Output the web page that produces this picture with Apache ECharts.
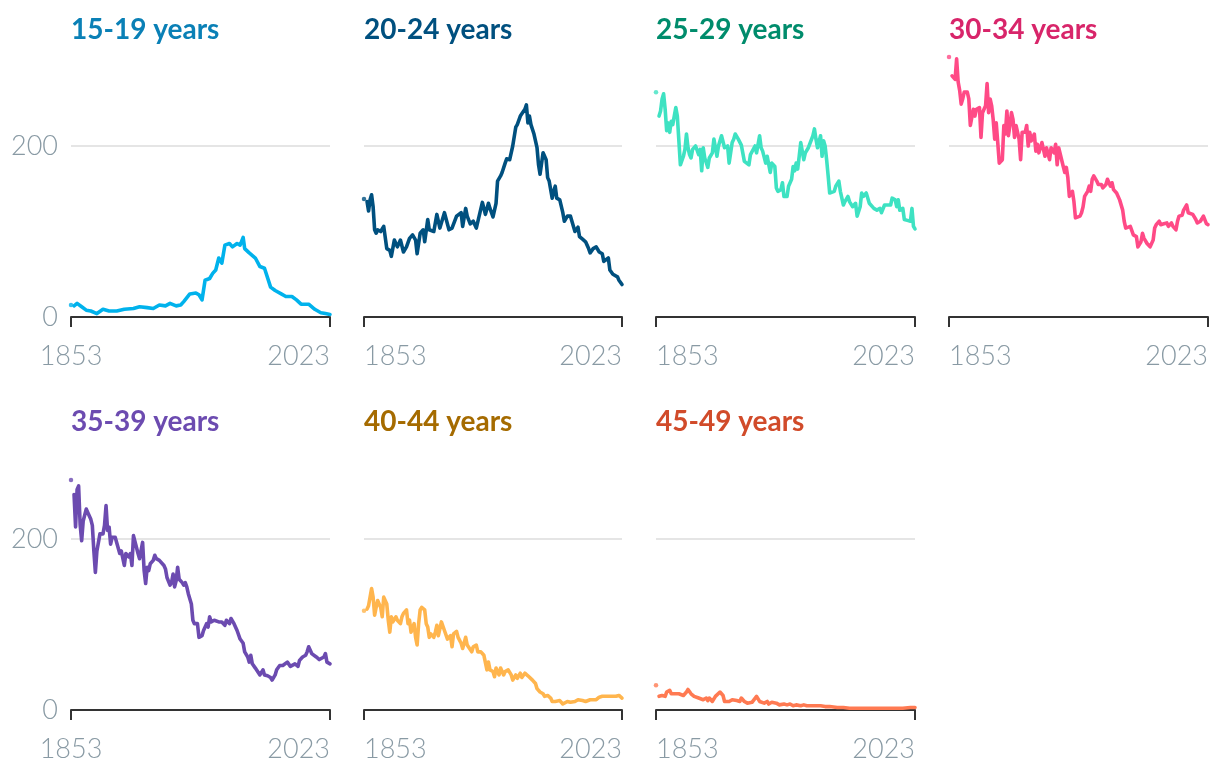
<!DOCTYPE html>
<html>
<head>
<meta charset="utf-8">
<script src="https://cdn.jsdelivr.net/npm/echarts@6/dist/echarts.min.js"></script>
<style>
html,body{margin:0;padding:0;background:#fff;}
#chart{width:1220px;height:776px;}
</style>
</head>
<body>
<div id="chart"></div>
<script>
// ---- Data (births per 1000 women, by age group of mother) ----
const ageGroups = ['15-19 years','20-24 years','25-29 years','30-34 years','35-39 years','40-44 years','45-49 years'];
const xTickYears = [1853, 2023];
const yTicks = [0, 200];

const age1519 = [[1853,14],[1855,13],[1857,16],[1860,12],[1863,8],[1866,7],[1870,4],[1874,9],[1878,7],[1883,7],[1888,9],[1894,10],[1898,12],[1903,11],[1907,10],[1911,14],[1915,13],[1918,16],[1922,13],[1925,14],[1927,18],[1931,27],[1935,28],[1937,26],[1939,20],[1941,43],[1944,45],[1946,51],[1948,55],[1950,69],[1952,63],[1954,84],[1957,86],[1959,82],[1962,86],[1964,84],[1966,93],[1967,80],[1970,75],[1974,69],[1977,59],[1980,57],[1984,35],[1987,31],[1991,27],[1994,24],[1998,24],[2001,20],[2004,15],[2009,15],[2013,9],[2017,5],[2020,4],[2023,3]];

const age2024 = [[1853,138],[1855,135],[1856,124],[1857,137],[1858,143],[1859,129],[1860,102],[1861,98],[1862,102],[1864,100],[1866,106],[1867,104],[1868,80],[1870,78],[1871,71],[1873,90],[1875,82],[1877,90],[1878,88],[1879,76],[1881,82],[1883,92],[1885,96],[1887,90],[1888,74],[1890,98],[1892,102],[1893,88],[1895,114],[1896,102],[1899,100],[1901,120],[1903,104],[1906,122],[1909,102],[1911,104],[1912,106],[1914,118],[1917,122],[1918,106],[1920,127],[1921,118],[1923,109],[1925,112],[1927,104],[1928,104],[1931,134],[1932,133],[1933,120],[1935,133],[1936,127],[1938,117],[1940,133],[1941,159],[1943,165],[1944,169],[1946,180],[1947,185],[1949,184],[1951,200],[1953,222],[1954,225],[1956,235],[1957,237],[1959,243],[1960,248],[1961,227],[1962,235],[1963,225],[1965,214],[1967,198],[1968,178],[1969,167],[1971,192],[1972,194],[1973,184],[1974,163],[1975,159],[1977,139],[1978,147],[1979,153],[1980,139],[1982,137],[1984,122],[1985,112],[1987,118],[1989,118],[1990,112],[1992,100],[1994,105],[1995,94],[1997,91],[1999,88],[2001,80],[2002,75],[2004,80],[2006,82],[2008,76],[2010,74],[2011,65],[2012,67],[2014,69],[2015,55],[2017,50],[2018,49],[2020,47],[2021,43],[2023,38]];

const age2529 = [[1853,263],[1855,235],[1856,241],[1857,255],[1858,261],[1859,243],[1860,218],[1861,227],[1862,216],[1863,229],[1864,225],[1865,235],[1866,245],[1867,235],[1869,178],[1870,178],[1871,188],[1872,196],[1873,214],[1874,198],[1875,190],[1876,186],[1877,196],[1879,200],[1881,190],[1882,196],[1883,171],[1884,198],[1885,186],[1887,175],[1888,186],[1890,192],[1891,208],[1893,188],[1894,200],[1896,212],[1897,214],[1898,198],[1900,200],[1901,180],[1903,204],[1904,208],[1905,214],[1907,208],[1909,201],[1910,200],[1911,182],[1912,180],[1914,178],[1915,190],[1916,188],[1918,200],[1919,192],[1921,212],[1922,198],[1923,194],[1925,180],[1926,188],[1928,169],[1929,180],[1931,176],[1932,151],[1933,147],[1935,149],[1936,157],[1937,141],[1939,141],[1940,153],[1942,161],[1943,176],[1944,171],[1945,180],[1946,173],[1947,188],[1948,204],[1949,194],[1950,184],[1951,192],[1953,198],[1954,200],[1956,212],[1957,220],[1958,208],[1959,198],[1961,212],[1962,188],[1963,206],[1964,200],[1965,184],[1966,165],[1967,145],[1968,143],[1970,147],[1971,153],[1973,159],[1974,147],[1976,131],[1977,135],[1979,141],[1980,135],[1982,129],[1984,133],[1985,118],[1987,129],[1988,145],[1989,141],[1991,145],[1993,133],[1994,133],[1996,127],[1998,125],[2000,127],[2001,122],[2003,131],[2004,133],[2007,131],[2008,139],[2010,137],[2011,129],[2012,137],[2013,125],[2015,127],[2016,114],[2018,113],[2020,112],[2021,127],[2022,106],[2023,103]];

const age3034 = [[1853,304],[1855,282],[1856,280],[1857,278],[1858,302],[1859,275],[1860,265],[1861,249],[1862,255],[1863,263],[1865,263],[1866,255],[1867,224],[1869,243],[1870,235],[1871,243],[1873,245],[1874,210],[1875,239],[1876,237],[1877,247],[1878,273],[1879,239],[1880,255],[1881,247],[1882,231],[1883,208],[1884,227],[1885,204],[1886,180],[1888,184],[1889,224],[1890,214],[1891,241],[1892,212],[1893,224],[1894,239],[1895,231],[1896,210],[1897,224],[1899,208],[1900,184],[1901,216],[1903,216],[1904,224],[1905,200],[1906,216],[1907,206],[1909,214],[1910,194],[1911,202],[1912,192],[1914,204],[1915,204],[1916,188],[1917,198],[1919,184],[1920,198],[1922,192],[1923,202],[1924,178],[1925,198],[1926,200],[1928,176],[1929,169],[1930,175],[1931,163],[1932,141],[1934,147],[1935,135],[1936,116],[1937,116],[1939,118],[1940,122],[1941,129],[1942,141],[1944,147],[1945,153],[1946,147],[1947,161],[1948,165],[1950,159],[1951,155],[1953,155],[1954,151],[1956,155],[1957,161],[1959,153],[1960,157],[1961,149],[1963,145],[1965,137],[1967,125],[1968,112],[1969,104],[1970,102],[1972,106],[1973,104],[1974,96],[1976,94],[1977,82],[1979,88],[1980,98],[1981,92],[1982,90],[1983,86],[1985,82],[1986,81],[1987,90],[1988,104],[1989,108],[1991,112],[1992,108],[1994,109],[1996,110],[1997,106],[1999,110],[2000,106],[2002,102],[2003,112],[2004,118],[2006,119],[2007,125],[2009,131],[2010,122],[2011,124],[2013,120],[2015,114],[2016,110],[2018,112],[2020,118],[2021,120],[2022,109],[2023,108]];

const age3539 = [[1853,269],[1855,252],[1856,214],[1857,258],[1858,262],[1859,217],[1860,198],[1861,221],[1862,223],[1863,235],[1864,231],[1866,223],[1867,216],[1868,186],[1869,161],[1870,186],[1871,188],[1872,206],[1874,206],[1875,216],[1876,239],[1877,210],[1878,214],[1879,194],[1880,202],[1882,202],[1883,204],[1885,183],[1886,186],[1888,169],[1889,183],[1891,179],[1892,183],[1893,169],[1894,204],[1895,202],[1897,183],[1898,177],[1900,196],[1901,163],[1902,148],[1903,167],[1904,163],[1905,171],[1907,175],[1908,181],[1909,177],[1911,175],[1912,175],[1914,169],[1915,165],[1916,155],[1918,146],[1919,149],[1920,159],[1921,144],[1922,151],[1923,167],[1924,153],[1926,149],[1927,146],[1928,149],[1929,144],[1930,136],[1932,124],[1933,105],[1934,101],[1936,101],[1937,85],[1939,87],[1940,93],[1942,101],[1943,97],[1944,109],[1945,103],[1947,105],[1948,103],[1950,103],[1951,101],[1952,103],[1954,99],[1955,105],[1957,101],[1958,107],[1960,101],[1962,93],[1963,91],[1964,83],[1966,78],[1967,68],[1969,62],[1970,56],[1971,64],[1972,54],[1974,49],[1975,47],[1977,41],[1979,47],[1980,41],[1982,40],[1984,38],[1985,35],[1987,41],[1988,47],[1990,52],[1992,52],[1993,52],[1995,56],[1997,51],[1998,52],[2000,54],[2002,51],[2003,58],[2005,62],[2007,64],[2008,68],[2009,74],[2011,66],[2012,66],[2014,62],[2016,59],[2017,58],[2019,62],[2020,66],[2021,56],[2023,54]];

const age4044 = [[1853,116],[1855,118],[1856,122],[1857,120],[1858,142],[1859,132],[1860,111],[1861,120],[1862,128],[1863,130],[1864,120],[1865,109],[1866,132],[1868,124],[1869,105],[1870,91],[1871,109],[1872,103],[1874,109],[1875,105],[1877,101],[1878,109],[1879,113],[1881,117],[1882,101],[1883,105],[1884,91],[1886,101],[1887,85],[1888,76],[1889,101],[1890,117],[1891,120],[1893,117],[1894,101],[1895,97],[1896,85],[1897,89],[1899,85],[1900,91],[1901,99],[1902,87],[1903,89],[1904,103],[1905,105],[1906,93],[1908,83],[1909,85],[1910,87],[1911,74],[1912,89],[1914,92],[1915,85],[1917,78],[1918,72],[1920,85],[1921,76],[1922,74],[1924,68],[1925,74],[1927,76],[1928,68],[1930,68],[1932,64],[1933,62],[1934,47],[1935,56],[1936,47],[1938,45],[1939,39],[1940,49],[1942,41],[1943,49],[1945,41],[1946,45],[1948,47],[1950,41],[1951,35],[1953,41],[1954,37],[1956,43],[1957,38],[1959,43],[1961,40],[1962,38],[1964,35],[1966,31],[1967,25],[1969,21],[1971,19],[1972,16],[1974,17],[1976,14],[1977,10],[1979,10],[1980,8],[1982,11],[1984,7],[1985,9],[1987,10],[1989,9],[1990,11],[1992,10],[1994,12],[1995,10],[1997,11],[1999,10],[2000,11],[2002,12],[2004,12],[2006,12],[2008,15],[2010,16],[2012,16],[2014,16],[2015,15],[2017,16],[2019,16],[2021,17],[2022,15],[2023,14]];

const age4549 = [[1853,29],[1855,16],[1856,14],[1857,17],[1859,16],[1860,21],[1861,19],[1862,23],[1863,19],[1864,21],[1866,19],[1868,19],[1869,19],[1871,17],[1873,21],[1874,24],[1876,19],[1878,16],[1879,16],[1881,14],[1882,16],[1884,12],[1886,14],[1887,11],[1888,14],[1890,10],[1892,16],[1893,17],[1895,21],[1896,23],[1897,17],[1898,10],[1899,12],[1901,10],[1903,12],[1904,12],[1906,11],[1908,10],[1909,14],[1911,10],[1913,8],[1914,10],[1916,9],[1917,8],[1919,16],[1921,10],[1922,10],[1924,8],[1926,10],[1927,7],[1929,9],[1930,7],[1932,8],[1934,6],[1937,7],[1939,6],[1941,7],[1943,5],[1945,6],[1948,5],[1950,6],[1952,5],[1955,5],[1958,5],[1961,5],[1964,4],[1967,4],[1972,3],[1976,3],[1980,2],[1985,2],[1989,2],[1993,2],[1998,2],[2002,2],[2007,2],[2011,2],[2015,2],[2020,3],[2023,3]];

const seriesData = [age1519, age2024, age2529, age3034, age3539, age4044, age4549];

// ---- Styling / layout ----
const lineColors  = ['#00b2ec','#00507f','#3ee2c2','#ff4a86','#6c4bb0','#ffb54d','#ff7a52'];
const titleColors = ['#0a80b6','#00507f','#008c6c','#d8256a','#6c4bb0','#a56b00','#d14b2a'];
const colLeft = [71, 364, 656, 949];
const colWidth = [259, 258, 259, 259];
const rowBase = [317, 710];     // pixel position of value 0
const pxPerUnit = 0.855;
const YMAX = 320;
const FONT = 'Lato, "Noto Sans", sans-serif';
const labelColor = '#899aa4';

const grids = [], xAxes = [], yAxes = [], series = [], titles = [];
ageGroups.forEach((name, i) => {
  const row = Math.floor(i / 4), col = i % 4;
  const h = YMAX * pxPerUnit;
  grids.push({ left: colLeft[col], width: colWidth[col], top: rowBase[row] - h, height: h, containLabel: false });
  xAxes.push({
    gridIndex: i, type: 'value', min: xTickYears[0], max: xTickYears[1],
    interval: xTickYears[1] - xTickYears[0],
    axisLine: { show: true, onZero: false, lineStyle: { color: '#333', width: 2 } },
    axisTick: { show: true, length: 10, lineStyle: { color: '#333', width: 2 } },
    splitLine: { show: false },
    axisLabel: {
      show: true, margin: 26, color: labelColor, fontFamily: FONT, fontSize: 27, fontWeight: 300,
      showMinLabel: true, showMaxLabel: true,
      alignMinLabel: col === 0 ? 'center' : 'left', alignMaxLabel: 'right',
      formatter: v => (xTickYears.indexOf(v) >= 0 ? String(v) : '')
    }
  });
  yAxes.push({
    gridIndex: i, type: 'value', min: yTicks[0], max: YMAX, interval: yTicks[1] - yTicks[0],
    axisLine: { show: false }, axisTick: { show: false },
    splitLine: { show: true, lineStyle: { color: ['rgba(0,0,0,0)', '#e5e5e5', 'rgba(0,0,0,0)'], width: 2 } },
    axisLabel: {
      show: col === 0, margin: 13, color: labelColor, fontFamily: FONT, fontSize: 27, fontWeight: 300,
      showMaxLabel: false,
      formatter: v => (yTicks.indexOf(v) >= 0 ? String(v) : '')
    }
  });
  const d = seriesData[i];
  series.push({
    type: 'line', xAxisIndex: i, yAxisIndex: i, data: d.slice(1),
    showSymbol: false, symbol: 'none', clip: false, z: 3,
    lineStyle: { color: lineColors[i], width: 3.6, cap: 'round', join: 'round' }
  });
  series.push({
    type: 'scatter', xAxisIndex: i, yAxisIndex: i, data: [d[0]],
    symbol: 'circle', symbolSize: 4.5, itemStyle: { color: lineColors[i] }, z: 3
  });
  titles.push({
    text: name, left: colLeft[col], top: (row === 0 ? 16 : 408), padding: 0,
    textStyle: { color: titleColors[i], fontFamily: FONT, fontSize: 28, fontWeight: 'bold' }
  });
});

const chart = echarts.init(document.getElementById('chart'), null, { renderer: 'canvas' });
chart.setOption({
  animation: false,
  backgroundColor: '#ffffff',
  title: titles,
  grid: grids,
  xAxis: xAxes,
  yAxis: yAxes,
  series: series
});
</script>
</body>
</html>
